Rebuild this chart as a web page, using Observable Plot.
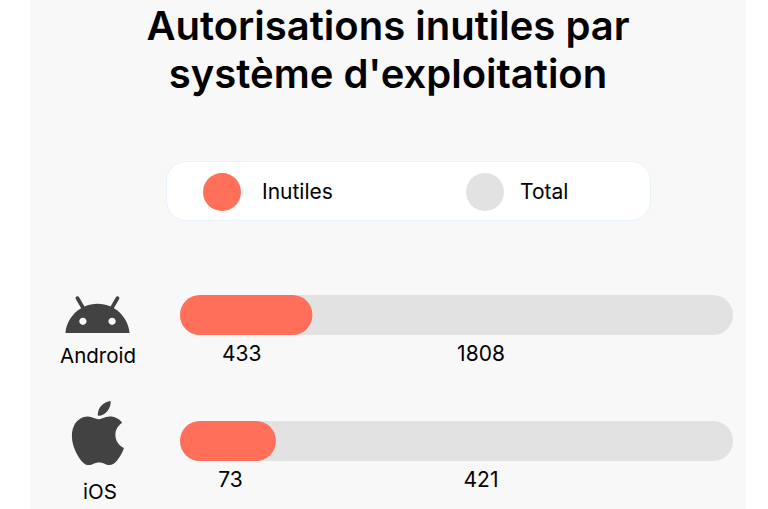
<!DOCTYPE html>
<html lang="fr">
<head>
<meta charset="utf-8">
<script src="https://cdn.jsdelivr.net/npm/d3@7"></script>
<script src="https://cdn.jsdelivr.net/npm/@observablehq/plot@0.6"></script>
<style>
html,body{margin:0;padding:0;background:#fff;overflow:hidden}
#page{position:relative;width:768px;height:509px;font-family:Inter,sans-serif;color:#000}
#panel{position:absolute;left:30px;top:0;width:716px;height:509px;background:#f8f8f8}
h1{position:absolute;left:30px;width:716px;top:2px;margin:0;text-align:center;font-size:40px;line-height:48px;font-weight:600}
#legend{position:absolute;left:166px;top:161px;width:483px;height:58px;background:#fff;border:1px solid #e9f3fd;border-radius:20px}
.sw{position:absolute;top:11px;width:38px;height:38px;border-radius:50%}
.lb{position:absolute;top:0;line-height:60px;font-size:21px}
#chart{position:absolute;left:0;top:0}
#chart svg{display:block}
</style>
</head>
<body>
<div id="page">
  <div id="panel"></div>
  <h1 id="title"></h1>
  <div id="legend"></div>
  <div id="chart"></div>
</div>
<script>
const titleLines = ["Autorisations inutiles par", "système d'exploitation"];
const systems = ["Android", "iOS"];
const inutiles = [433, 73];
const totals = [1808, 421];
const seriesNames = ["Inutiles", "Total"];
const seriesColors = ["#ff6f59", "#e2e2e2"];

const androidPath = "M17.6 9.48l1.84-3.18c.16-.31.04-.69-.26-.85-.29-.15-.65-.06-.83.22l-1.88 3.24c-2.86-1.21-6.08-1.21-8.94 0L5.65 5.67c-.19-.29-.58-.38-.87-.2-.28.18-.37.54-.22.83L6.4 9.48C3.3 11.25 1.31 14.44 1 18h22c-.31-3.56-2.3-6.75-5.4-8.52zM7 15.25c-.69 0-1.25-.56-1.25-1.25s.56-1.25 1.25-1.25 1.25.56 1.25 1.25-.56 1.25-1.25 1.25zm10 0c-.69 0-1.25-.56-1.25-1.25s.56-1.25 1.25-1.25 1.25.56 1.25 1.25-.56 1.25-1.25 1.25z";
const applePath = "M18.71 19.5c-.83 1.24-1.71 2.45-3.05 2.47-1.34.03-1.77-.79-3.29-.79-1.53 0-2 .77-3.27.82-1.31.05-2.3-1.32-3.14-2.53C4.25 17 2.94 12.45 4.7 9.39c.87-1.52 2.43-2.48 4.12-2.51 1.28-.02 2.5.87 3.29.87.78 0 2.26-1.07 3.81-.91.65.03 2.47.26 3.64 1.98-.09.06-2.17 1.28-2.15 3.81.03 3.02 2.65 4.03 2.68 4.04-.03.07-.42 1.44-1.38 2.83M13 3.5c.73-.83 1.94-1.46 2.94-1.5.13 1.17-.34 2.35-1.04 3.19-.69.85-1.83 1.51-2.95 1.42-.15-1.15.41-2.35 1.05-3.11z";
const icon = p => "data:image/svg+xml," + encodeURIComponent(`<svg xmlns="http://www.w3.org/2000/svg" viewBox="0 0 24 24"><path fill="#424242" d="${p}"/></svg>`);

document.getElementById("title").innerHTML = titleLines.join("<br>");

const legend = document.getElementById("legend");
[[36, 95], [299, 353]].forEach(([sw, lb], i) => {
  const s = document.createElement("div");
  s.className = "sw"; s.style.left = sw + "px"; s.style.background = seriesColors[i];
  const t = document.createElement("div");
  t.className = "lb"; t.style.left = lb + "px"; t.textContent = seriesNames[i];
  legend.append(s, t);
});

const rows = systems.map((name, i) => ({
  name,
  inutile: String(inutiles[i]),
  total: String(totals[i]),
  share: inutiles[i] / totals[i],
  whole: 1,
  start: 0,
  icon: icon(i === 0 ? androidPath : applePath)
}));
const isAndroid = d => d.name === "Android";
const isIOS = d => d.name === "iOS";
const textStyle = {fill: "#000", fontSize: 21, fontFamily: "Inter, sans-serif", lineAnchor: "middle"};
const nameStyle = {...textStyle, fontSize: 20.5, textAnchor: "middle"};
const mid = d => d.share / 2;
const half = d => d.whole / 2;

const plot = Plot.plot({
  width: 768,
  height: 509,
  marginTop: 0, marginBottom: 0, marginLeft: 0, marginRight: 0,
  style: {background: "transparent"},
  x: {domain: [0, 1], range: [180, 733], axis: null},
  y: {domain: systems, range: [295, 461], paddingInner: 0.6825, paddingOuter: 0, align: 0.5, round: false, axis: null},
  marks: [
    Plot.barX(rows, {x1: "start", x2: "whole", y: "name", fill: seriesColors[1], rx: 20}),
    Plot.barX(rows, {x1: "start", x2: "share", y: "name", fill: seriesColors[0], rx: 20}),
    Plot.text(rows.filter(isAndroid), {x: mid, y: "name", text: "inutile", dy: 39, dx: -5, ...textStyle}),
    Plot.text(rows.filter(isIOS), {x: mid, y: "name", text: "inutile", dy: 39, dx: 2, ...textStyle}),
    Plot.text(rows, {x: half, y: "name", text: "total", dy: 39, dx: 24, ...textStyle}),
    Plot.text(rows.filter(isAndroid), {frameAnchor: "left", y: "name", text: "name", dx: 97.5, dy: 41, ...nameStyle}),
    Plot.text(rows.filter(isIOS), {frameAnchor: "left", y: "name", text: "name", dx: 99.5, dy: 51, ...nameStyle}),
    Plot.image(rows.filter(isAndroid), {frameAnchor: "left", y: "name", src: d => d.icon, width: 70, height: 70, dx: 97}),
    Plot.image(rows.filter(isIOS), {frameAnchor: "left", y: "name", src: d => d.icon, width: 77, height: 77, dx: 97.5, dy: -8.5})
  ]
});
document.getElementById("chart").append(plot);
</script>
</body>
</html>
